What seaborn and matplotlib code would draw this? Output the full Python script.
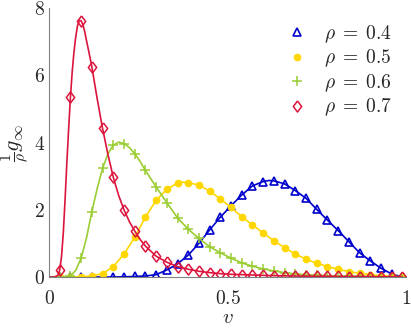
#!/usr/bin/env python3

import numpy as np
import matplotlib
matplotlib.use("Agg")
import matplotlib.pyplot as plt
import pandas as pd
import seaborn as sns

sns.set_style("white")
plt.rcParams['font.family'] = 'serif'
plt.rcParams['font.serif'] = ['cmr10', 'DejaVu Serif']
plt.rcParams['mathtext.fontset'] = 'cm'
plt.rcParams['axes.unicode_minus'] = False

# marker grid
v = [0.03, 0.06, 0.09, 0.12, 0.15, 0.18, 0.21, 0.24, 0.27, 0.30, 0.33,
     0.36, 0.39, 0.42, 0.45, 0.48, 0.51, 0.54, 0.57, 0.60, 0.63, 0.66,
     0.69, 0.72, 0.75, 0.78, 0.81, 0.84, 0.87, 0.90, 0.93, 0.96, 0.99]

g_04 = [0.0, 0.0, 0.0, 0.0, 0.0, 0.0, 0.005, 0.015, 0.03, 0.07, 0.21,
        0.39, 0.65, 1.00, 1.40, 1.78, 2.12, 2.44, 2.71, 2.84, 2.86, 2.77,
        2.57, 2.34, 2.01, 1.69, 1.38, 1.05, 0.72, 0.48, 0.26, 0.09, 0.0]

g_05 = [0.0, 0.0, 0.01, 0.03, 0.10, 0.31, 0.68, 1.18, 1.78, 2.28, 2.61,
        2.79, 2.81, 2.73, 2.56, 2.32, 2.07, 1.79, 1.55, 1.31, 1.08, 0.87,
        0.68, 0.53, 0.41, 0.31, 0.23, 0.16, 0.11, 0.07, 0.04, 0.02, 0.01]

g_06 = [0.0, 0.03, 0.56, 1.94, 3.23, 3.92, 3.97, 3.67, 3.17, 2.68, 2.21,
        1.76, 1.42, 1.15, 0.90, 0.72, 0.56, 0.42, 0.32, 0.24, 0.18, 0.13,
        0.09, 0.07, 0.05, 0.04, 0.03, 0.02, 0.015, 0.01, 0.005, 0.0, 0.0]

g_07 = [0.21, 5.34, 7.62, 6.25, 4.42, 2.97, 2.00, 1.37, 0.92, 0.62, 0.44,
        0.31, 0.23, 0.17, 0.13, 0.10, 0.08, 0.07, 0.06, 0.05, 0.04, 0.035,
        0.03, 0.025, 0.02, 0.02, 0.015, 0.01, 0.01, 0.01, 0.005, 0.005, 0.0]

# extra points
ex_v_04 = [0.0, 0.615]
ex_g_04 = [0.0, 2.87]
ex_v_05 = [0.0, 0.375]
ex_g_05 = [0.0, 2.82]
ex_v_06 = [0.0, 0.045, 0.075, 0.105, 0.135, 0.165, 0.195, 0.225, 0.255]
ex_g_06 = [0.0, 0.01, 0.20, 1.16, 2.63, 3.66, 4.01, 3.85, 3.44]
ex_v_07 = [0.0, 0.015, 0.025, 0.035, 0.04, 0.045, 0.05, 0.055, 0.065, 0.07,
           0.075, 0.08, 0.085, 0.095, 0.10, 0.105, 0.11, 0.115, 0.135,
           0.165, 0.195, 0.225, 0.255]
ex_g_07 = [0.0, 0.0, 0.05, 0.6, 1.3, 2.3, 3.4, 4.4, 6.1, 6.7,
           7.15, 7.48, 7.63, 7.5, 7.3, 7.03, 6.78, 6.52, 5.3,
           3.65, 2.43, 1.65, 1.12]

labels = [r'$\rho\;=\;0.4$', r'$\rho\;=\;0.5$', r'$\rho\;=\;0.6$', r'$\rho\;=\;0.7$']
colors = ['#0000CD', '#FFD700', '#9ACD32', '#DC143C']

diamond = [(0, 1), (0.75, 0), (0, -1), (-0.75, 0), (0, 1)]
styles = [dict(marker='^', markersize=6, markerfacecolor='none', markeredgewidth=1.2),
          dict(marker='o', markersize=4.5, markeredgewidth=1.0),
          dict(marker='+', markersize=6.5, markeredgewidth=1.1),
          dict(marker=diamond, markersize=8, markerfacecolor='none', markeredgewidth=1.1)]

series = [(g_04, ex_v_04, ex_g_04), (g_05, ex_v_05, ex_g_05),
          (g_06, ex_v_06, ex_g_06), (g_07, ex_v_07, ex_g_07)]

fig = plt.figure(figsize=(4.11, 3.28), dpi=100)
ax = fig.add_axes([49 / 411, 1 - 277 / 328, 357 / 411, 269 / 328])

for (g, exv, exg), lab, col, st in zip(series, labels, colors, styles):
    line = pd.DataFrame({'v': v + exv, 'g': g + exg}).sort_values('v')
    sns.lineplot(data=line, x='v', y='g', color=col, linewidth=1.2, ax=ax,
                 legend=False, estimator=None)
    pts = pd.DataFrame({'v': v, 'g': g})
    sns.lineplot(data=pts, x='v', y='g', color=col, linestyle='', ax=ax,
                 markeredgecolor=col, label=lab, estimator=None, **st)

ax.set_xlim(0, 1)
ax.set_ylim(0, 8)
ax.set_xticks([0, 0.5, 1])
ax.set_xticklabels(['$0$', '$0.5$', '$1$'])
ax.set_yticks([0, 2, 4, 6, 8])
ax.set_yticklabels(['$0$', '$2$', '$4$', '$6$', '$8$'])
ax.tick_params(direction='in', length=3, width=0.8, color='#808080',
               labelsize=14, labelcolor='#262626')
ax.tick_params(axis='x', pad=9)
ax.tick_params(axis='y', pad=3)

sns.despine(ax=ax)
for s in ['left', 'bottom']:
    ax.spines[s].set_color('#808080')
    ax.spines[s].set_linewidth(0.8)

ax.set_xlabel('$v$', fontsize=15, labelpad=1)
ax.set_ylabel(r'$\frac{1}{\rho}g_\infty$', fontsize=16, labelpad=2)

ax.legend(loc='upper right', frameon=False, fontsize=14, handlelength=1.0,
          handletextpad=0.9, labelspacing=0.15, borderaxespad=0.3,
          bbox_to_anchor=(1.0, 0.994))

fig.savefig('out.png', dpi=100)
